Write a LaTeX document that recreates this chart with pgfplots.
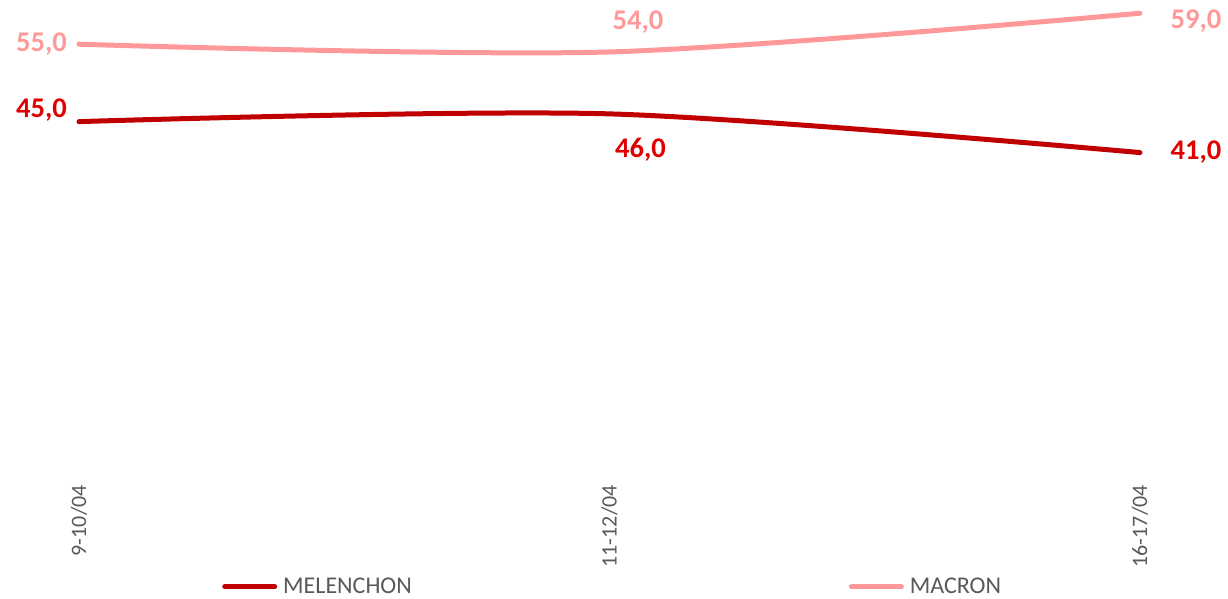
\documentclass[border=0pt]{standalone}
\usepackage{pgfplots}
\pgfplotsset{compat=1.18}
\usepackage{fontspec}
\setmainfont{Carlito}
\definecolor{melline}{HTML}{C00000}
\definecolor{mellab}{HTML}{E00000}
\definecolor{macline}{HTML}{FF9999}
\definecolor{txtgray}{HTML}{595959}
\begin{document}
\begin{tikzpicture}
\path[use as bounding box] (0,0) rectangle (1228bp,599bp);
\begin{axis}[
  at={(79bp,129bp)}, anchor=south west,
  scale only axis, width=1061bp, height=464.5bp,
  xmin=0, xmax=2, ymin=0, ymax=60,
  clip=false,
  axis line style={draw=none},
  ytick=\empty,
  xtick={0,1,2},
  xticklabels={9-10/04,11-12/04,16-17/04},
  major tick length=0pt,
  xticklabel style={rotate=90, anchor=east, inner sep=0pt, font=\fontsize{22bp}{24bp}\selectfont, text=txtgray},
  xticklabel shift=15bp,
  point meta=explicit symbolic,
  nodes near coords,
  every node near coord/.append style={anchor=center, inner sep=0pt, font=\fontsize{28.5bp}{30bp}\selectfont\bfseries},
  legend columns=2,
  legend style={draw=none, fill=none, at={(0.1348,-0.2515)}, anchor=west, inner sep=0pt,
    nodes={inner sep=0pt, text=txtgray, font=\fontsize{24bp}{26bp}\selectfont},
    /tikz/every odd column/.append style={column sep=6bp},
    /tikz/every even column/.append style={column sep=437bp}},
  legend image code/.code={\draw[#1, line width=5bp, line cap=round] (0bp,0bp) -- (50bp,0bp);},
]
\addplot[melline, line width=5bp, line cap=round, smooth, mark=none,
  every node near coord/.append style={text=mellab},
  coordinate style/.condition={\coordindex==0}{xshift=-37.5bp, yshift=12bp},
  coordinate style/.condition={\coordindex==1}{xshift=31bp, yshift=-36bp},
  coordinate style/.condition={\coordindex==2}{xshift=56bp, yshift=0.5bp},
] coordinates {(0,45) [45,0] (1,46) [46,0] (2,41) [41,0]};
\addlegendentry{MELENCHON}
\addplot[macline, line width=5bp, line cap=round, smooth, mark=none,
  every node near coord/.append style={text=macline},
  coordinate style/.condition={\coordindex==0}{xshift=-37.5bp, yshift=-0.2bp},
  coordinate style/.condition={\coordindex==1}{xshift=28.5bp, yshift=29.5bp},
  coordinate style/.condition={\coordindex==2}{xshift=56bp, yshift=-7.5bp},
] coordinates {(0,55) [55,0] (1,54) [54,0] (2,59) [59,0]};
\addlegendentry{MACRON}
\end{axis}
\end{tikzpicture}
\end{document}
